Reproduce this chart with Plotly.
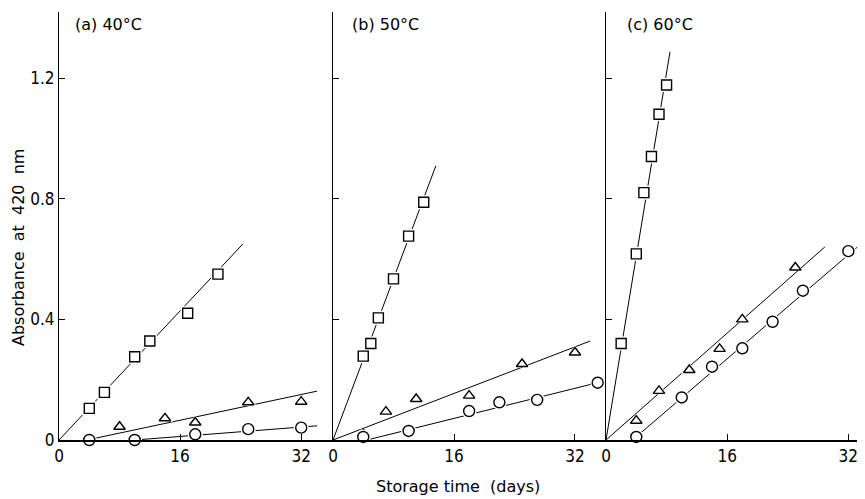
import plotly.graph_objects as go

# ---------------- data ----------------
panels = ["(a) 40°C", "(b) 50°C", "(c) 60°C"]

# panel (a) 40 °C
a_sq_x = [4, 6, 10, 12, 17, 21]
a_sq_y = [0.105, 0.158, 0.276, 0.328, 0.42, 0.55]
a_tr_x = [4, 8, 14, 18, 25, 32]
a_tr_y = [0.0, 0.044, 0.072, 0.058, 0.125, 0.127]
a_ci_x = [4, 10, 18, 25, 32]
a_ci_y = [0.0, 0.0, 0.019, 0.036, 0.041]
a_sq_fit_x = [0, 24.3]
a_sq_fit_y = [0, 0.65]
a_tr_fit_x = [3.7, 34.1]
a_tr_fit_y = [0, 0.162]
a_ci_fit_x = [10, 34.1]
a_ci_fit_y = [0, 0.047]

# panel (b) 50 °C
b_sq_x = [4, 5, 6, 8, 10, 12]
b_sq_y = [0.278, 0.32, 0.405, 0.534, 0.676, 0.788]
b_tr_x = [4, 7, 11, 18, 25, 32]
b_tr_y = [0.022, 0.094, 0.136, 0.147, 0.252, 0.29]
b_ci_x = [4, 10, 18, 22, 27, 35]
b_ci_y = [0.01, 0.03, 0.096, 0.125, 0.133, 0.19]
b_sq_fit_x = [0, 13.6]
b_sq_fit_y = [0, 0.909]
b_tr_fit_x = [0, 34]
b_tr_fit_y = [0, 0.328]
b_ci_fit_x = [4.5, 35]
b_ci_fit_y = [0, 0.19]

# panel (c) 60 °C
c_sq_x = [2, 4, 5, 6, 7, 8]
c_sq_y = [0.32, 0.617, 0.82, 0.94, 1.08, 1.177]
c_tr_x = [4, 7, 11, 15, 18, 25]
c_tr_y = [0.064, 0.163, 0.232, 0.302, 0.4, 0.572]
c_ci_x = [4, 10, 14, 18, 22, 26, 32]
c_ci_y = [0.01, 0.141, 0.243, 0.304, 0.392, 0.495, 0.626]
c_sq_fit_x = [0, 8.45]
c_sq_fit_y = [0, 1.287]
c_tr_fit_x = [0, 28.9]
c_tr_fit_y = [0, 0.64]
c_ci_fit_x = [3.5, 34]
c_ci_fit_y = [0, 0.657]

x_ticks = [0, 16, 32]
y_ticks = [0, 0.4, 0.8, 1.2]
y_tick_labels = ["0", "0.4", "0.8", "1.2"]

# ---------------- figure ----------------
TICKFONT = "DejaVu Sans Condensed, DejaVu Sans, sans-serif"
TEXTFONT = "DejaVu Sans, sans-serif"
fig = go.Figure()

sets = [
    ("x", "y", [(a_sq_x, a_sq_y, "square", 10), (a_tr_x, a_tr_y, "triangle-up", 10), (a_ci_x, a_ci_y, "circle", 11)],
     [(a_sq_fit_x, a_sq_fit_y), (a_tr_fit_x, a_tr_fit_y), (a_ci_fit_x, a_ci_fit_y)]),
    ("x2", "y2", [(b_sq_x, b_sq_y, "square", 10), (b_tr_x, b_tr_y, "triangle-up", 10), (b_ci_x, b_ci_y, "circle", 11)],
     [(b_sq_fit_x, b_sq_fit_y), (b_tr_fit_x, b_tr_fit_y), (b_ci_fit_x, b_ci_fit_y)]),
    ("x3", "y3", [(c_sq_x, c_sq_y, "square", 10), (c_tr_x, c_tr_y, "triangle-up", 10), (c_ci_x, c_ci_y, "circle", 11)],
     [(c_sq_fit_x, c_sq_fit_y), (c_tr_fit_x, c_tr_fit_y), (c_ci_fit_x, c_ci_fit_y)]),
]

for xa, ya, pts, fits in sets:
    for fx, fy in fits:
        fig.add_trace(go.Scatter(x=fx, y=fy, mode="lines", xaxis=xa, yaxis=ya,
                                 line=dict(color="black", width=1), showlegend=False,
                                 cliponaxis=False, hoverinfo="skip"))
    for px, py, sym, sz in pts:
        # white backing so the fit line appears broken at each marker
        fig.add_trace(go.Scatter(x=px, y=py, mode="markers", xaxis=xa, yaxis=ya,
                                 marker=dict(symbol=sym, size=sz + 4, color="white",
                                             line=dict(width=0)),
                                 showlegend=False, cliponaxis=False, hoverinfo="skip"))
        fig.add_trace(go.Scatter(x=px, y=py, mode="markers", xaxis=xa, yaxis=ya,
                                 marker=dict(symbol=sym + "-open", size=sz, color="black",
                                             line=dict(width=1.4, color="black")),
                                 showlegend=False, cliponaxis=False))

# the page body adds an 8 px margin, so the figure is sized/offset to compensate
OFF = 8
W, H = 865 - OFF, 499 - OFF
L, T, B = 59 - OFF, 12 - OFF, 59
pw = W - L
ph = H - T - B
doms = [(0, 274 / pw), (274 / pw, 547 / pw), (547 / pw, 1)]
xr = [[0, 36.2], [0, 36.1], [0, 34.2]]

common_x = dict(showline=True, linecolor="black", linewidth=1.5, ticks="inside", ticklen=6,
                tickcolor="black", tickvals=x_ticks, ticktext=[str(t) for t in x_ticks],
                showgrid=False, zeroline=False, mirror=False,
                tickfont=dict(family=TICKFONT, size=17, color="black"))
common_y = dict(showline=True, linecolor="black", linewidth=1, ticks="inside", ticklen=6,
                tickcolor="black", tickvals=y_ticks, range=[0, 1.4188],
                showgrid=False, zeroline=False,
                tickfont=dict(family=TICKFONT, size=17, color="black"))

layout = dict(width=W, height=H, margin=dict(l=L, r=0, t=T, b=B),
              plot_bgcolor="white", paper_bgcolor="white", showlegend=False)
for i in range(3):
    sx = "" if i == 0 else str(i + 1)
    layout["xaxis" + sx] = dict(common_x, domain=list(doms[i]), range=xr[i], anchor="y" + sx)
    yax = dict(common_y, domain=[0, 1], anchor="x" + sx)
    if i == 0:
        yax["ticktext"] = y_tick_labels
    else:
        yax["showticklabels"] = False
    layout["yaxis" + sx] = yax
fig.update_layout(**layout)


def px_x(p):  # page pixel -> paper x
    return (p - OFF - L) / pw


def px_y(p):  # page pixel -> paper y
    return (H - B - (p - OFF)) / ph


title_x = [73, 350, 625]
for name, p in zip(panels, title_x):
    fig.add_annotation(text=name, xref="paper", yref="paper", x=px_x(p), y=px_y(24),
                       xanchor="left", yanchor="middle", showarrow=False,
                       font=dict(family=TEXTFONT, size=16, color="black"))

fig.add_annotation(text="Storage time  (days)", xref="paper", yref="paper",
                   x=px_x(458), y=px_y(486), xanchor="center", yanchor="middle",
                   showarrow=False, font=dict(family=TEXTFONT, size=16, color="black"))
fig.add_annotation(text="Absorbance  at  420  nm", xref="paper", yref="paper", textangle=-90,
                   x=px_x(19), y=px_y(248), xanchor="center", yanchor="middle",
                   showarrow=False, font=dict(family=TEXTFONT, size=16, color="black"))

fig.write_html("out.html")
